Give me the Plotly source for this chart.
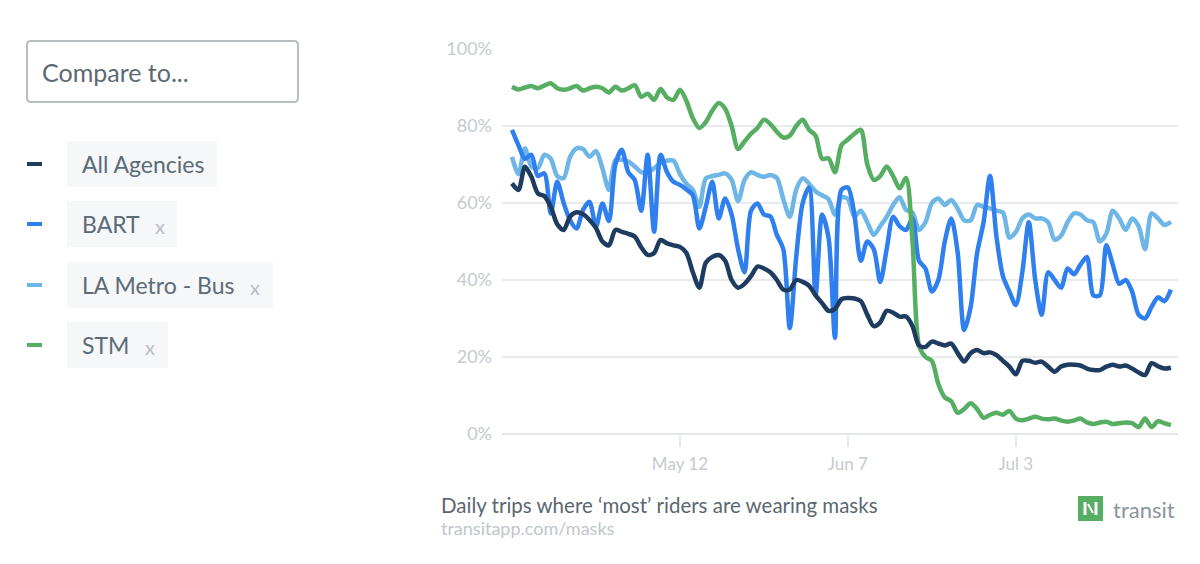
import pandas as pd
import plotly.graph_objects as go

# daily share of trips where "most" riders wear masks (%), Apr 16 -> Jul 27
dates = pd.date_range("2020-04-16", "2020-07-27", freq="D")

all_agencies = [
    65.1, 63.4, 69.4, 66.8, 62.5, 61.8, 59, 54.5, 53, 56.5, 57.6, 57.1, 55.6, 53.5, 50, 49, 53, 52.5, 52, 51.3,
    48.5, 46.5, 47, 50.4, 49.5, 49, 48.6, 47, 42, 38, 44.5, 46, 46.5, 45, 40, 38, 39, 41, 43.5, 43,
    42, 40, 37.5, 37.5, 40, 39.5, 38.5, 36, 34, 32, 32.5, 35, 35.3, 35.2, 34.5, 31, 28, 29, 32, 31.5,
    30.5, 30.5, 28, 23, 22.6, 24, 23.5, 23, 23.5, 21, 18.8, 21, 21.8, 21, 21.2, 20.5, 19, 17.5, 15.5, 19,
    19, 18.5, 18.8, 17.5, 16.2, 17.5, 18, 18, 17.8, 17, 16.6, 16.6, 17.5, 18, 17.5, 17.8, 17, 16, 15.3, 18.4,
    17.6, 17, 17.2,
]

bart = [
    79, 75, 71.5, 72.5, 67, 67.7, 57.3, 65.5, 60, 55.5, 53.4, 58.2, 60.3, 53.8, 59.9, 55.3, 70, 73.8, 68, 66,
    58, 72.5, 52.5, 72.5, 68, 65.5, 64.7, 63.5, 62, 53.4, 59, 65.5, 56, 61.2, 57, 48, 42, 58, 59.9, 57,
    56.5, 51.7, 48, 27.5, 46, 60, 64, 36, 57, 51, 25, 63.4, 64, 57, 45, 50, 48, 39.5, 48, 56.4,
    54, 53, 56, 45, 43, 37, 40, 50, 56, 47, 27, 33, 47, 55, 67, 51.2, 41, 37, 33.5, 42,
    55, 40, 31, 42, 40, 38, 43, 41.5, 44, 46, 36, 36, 49, 44, 39, 40, 37, 31, 30, 33,
    35.5, 34.5, 37.5,
]

la_metro_bus = [
    72, 67.5, 74.2, 69.5, 69, 72.5, 71.5, 67, 66.5, 72, 74.2, 74, 72, 73.5, 69, 63.4, 71.2, 71.2, 70.8, 69.5,
    68, 68, 69, 70.4, 71, 71, 67.5, 65, 63.4, 59, 66.4, 67, 67.3, 67.7, 66, 60.5, 66, 68, 67.3, 66.8,
    67.3, 66.5, 61, 56.4, 63.5, 66.4, 65, 63, 62, 61, 57, 61.5, 61, 56.5, 58, 55, 51.7, 54, 56.4, 59.5,
    61.5, 58.2, 57.5, 53, 55, 60, 61.2, 59.5, 60.8, 58.5, 55.5, 55.5, 59.5, 59, 58.6, 58, 57.5, 51, 52.5, 56,
    57, 56, 56, 55, 50.5, 51.5, 55, 57.3, 57, 55.5, 55, 50, 52, 58, 56, 53, 56, 54, 48, 57.3,
    56, 54.3, 55.1,
]

stm = [
    90.2, 89.5, 90.0, 90.4, 89.8, 90.5, 91.1, 89.8, 89.4, 89.8, 90.4, 89.2, 89.8, 90.2, 89.8, 88.7, 90.2, 89.2, 89.8, 90.6,
    87.6, 88.4, 86.8, 89.6, 87.4, 86.8, 89.4, 86.5, 82, 79.5, 81, 84, 86, 84.5, 80, 74, 76, 78, 79.5, 81.6,
    80.5, 78.5, 77, 77.5, 80, 81.6, 79, 77.5, 71.5, 71.6, 68, 75, 76.5, 78, 79, 70, 66, 67, 69.5, 67,
    63.8, 66.5, 50, 23, 20, 19, 13, 9.5, 8.5, 5.5, 6.5, 8, 6.5, 4.2, 5, 5.5, 5, 6, 4, 3.6,
    4, 4.5, 4, 3.8, 4, 3.5, 3.2, 3.5, 4, 3, 2.6, 3, 3.2, 2.6, 2.8, 3, 2.8, 1.8, 4, 1.8,
    3.3, 2.8, 2.3,
]

series_names = ["LA Metro - Bus", "BART", "STM", "All Agencies"]
series_values = [la_metro_bus, bart, stm, all_agencies]
series_colors = ["#6db6e5", "#2f80ee", "#55ae62", "#1e3c5f"]

x_ticks = ["2020-05-12", "2020-06-07", "2020-07-03"]
y_ticks = [0, 20, 40, 60, 80, 100]
y_tick_labels = ["0%", "20%", "40%", "60%", "80%", "100%"]

W, H = 1200, 564
OFF = 8  # page body margin, the figure sits 8px right/down


def px(x):
    return (x - OFF) / W


def py(y):
    return 1 - (y - OFF) / H


fig = go.Figure()

for name, vals, col in zip(series_names, series_values, series_colors):
    fig.add_trace(go.Scatter(x=dates, y=vals, name=name, mode="lines",
                             line=dict(color=col, width=4.5, shape="spline", smoothing=0.8)))

fig.update_layout(
    width=W, height=H,
    margin=dict(l=0, r=0, t=0, b=0, autoexpand=False),
    paper_bgcolor="white", plot_bgcolor="white",
    showlegend=False,
    font=dict(family="Lato", color="#c5cad0"),
    xaxis=dict(domain=[px(502), px(1178)],
               range=["2020-04-14 10:50", "2020-07-28 02:24"],
               tickvals=x_ticks, tickformat="%b %-d",
               ticks="outside", ticklen=11, tickwidth=2, tickcolor="#e6e8eb",
               showgrid=False, zeroline=False, showline=False,
               ticklabelstandoff=3,
               tickfont=dict(size=17, color="#c5cad0")),
    yaxis=dict(domain=[py(434.77), py(48.23)],
               range=[-0.2, 100.2],
               tickvals=y_ticks, ticktext=y_tick_labels,
               showgrid=True, gridcolor="#e8eaed", gridwidth=2,
               zeroline=True, zerolinecolor="#e3e6e9", zerolinewidth=2,
               showline=False, ticks="", ticklabelstandoff=9,
               tickfont=dict(size=18, color="#c5cad0")),
)

shapes = []
annotations = []

# "Compare to..." input box
x0, x1, y0, y1, r = 27, 298, 41, 102, 4
box_path = (f"M {px(x0 + r)} {py(y0)} L {px(x1 - r)} {py(y0)} Q {px(x1)} {py(y0)} {px(x1)} {py(y0 + r)} "
            f"L {px(x1)} {py(y1 - r)} Q {px(x1)} {py(y1)} {px(x1 - r)} {py(y1)} "
            f"L {px(x0 + r)} {py(y1)} Q {px(x0)} {py(y1)} {px(x0)} {py(y1 - r)} "
            f"L {px(x0)} {py(y0 + r)} Q {px(x0)} {py(y0)} {px(x0 + r)} {py(y0)} Z")
shapes.append(dict(type="path", xref="paper", yref="paper", path=box_path,
                   line=dict(color="#b8bdc2", width=2), fillcolor="white"))
annotations.append(dict(x=px(40), y=py(72), xref="paper", yref="paper", text="Compare to...",
                        showarrow=False, xanchor="left", yanchor="middle",
                        font=dict(family="Lato", size=25, color="#5c6973")))

# legend chips on the left
chip_labels = ["All Agencies", "BART", "LA Metro - Bus", "STM"]
chip_colors = ["#1e3c5f", "#2f80ee", "#6db6e5", "#55ae62"]
chip_rows = [164, 224, 285, 345]
chip_right = [217, 177, 273, 168]
chip_x_mark = [None, 160, 255, 150]

for lab, col, yc, xr, xm in zip(chip_labels, chip_colors, chip_rows, chip_right, chip_x_mark):
    shapes.append(dict(type="line", xref="paper", yref="paper",
                       x0=px(27), x1=px(42), y0=py(yc), y1=py(yc),
                       line=dict(color=col, width=4)))
    shapes.append(dict(type="rect", xref="paper", yref="paper",
                       x0=px(67), x1=px(xr), y0=py(yc - 23), y1=py(yc + 23),
                       fillcolor="#f6f7f8", line=dict(width=0), layer="below"))
    annotations.append(dict(x=px(80), y=py(yc), xref="paper", yref="paper", text=lab,
                            showarrow=False, xanchor="left", yanchor="middle",
                            font=dict(family="Lato", size=23, color="#5b6b78")))
    if xm:
        annotations.append(dict(x=px(xm), y=py(yc + 2), xref="paper", yref="paper", text="x",
                                showarrow=False, xanchor="center", yanchor="middle",
                                font=dict(family="Lato", size=20, color="#b9bec4")))

# caption under the chart
annotations.append(dict(x=px(439), y=py(505), xref="paper", yref="paper",
                        text="Daily trips where ‘most’ riders are wearing masks",
                        showarrow=False, xanchor="left", yanchor="middle",
                        font=dict(family="Lato", size=20.5, color="#5b6770")))
annotations.append(dict(x=px(439), y=py(528), xref="paper", yref="paper",
                        text="transitapp.com/masks",
                        showarrow=False, xanchor="left", yanchor="middle",
                        font=dict(family="Lato", size=18, color="#c0c6cc")))

# transit logo
shapes.append(dict(type="rect", xref="paper", yref="paper",
                   x0=px(1079), x1=px(1102), y0=py(497), y1=py(520),
                   fillcolor="#55ae62", line=dict(color="#55ae62", width=2)))
for lx in (1085, 1096):
    shapes.append(dict(type="line", xref="paper", yref="paper",
                       x0=px(lx), x1=px(lx), y0=py(502), y1=py(515),
                       line=dict(color="white", width=3)))
shapes.append(dict(type="line", xref="paper", yref="paper",
                   x0=px(1088), x1=px(1093), y0=py(504), y1=py(513),
                   line=dict(color="white", width=2)))
annotations.append(dict(x=px(1111), y=py(509), xref="paper", yref="paper", text="transit",
                        showarrow=False, xanchor="left", yanchor="middle",
                        font=dict(family="Lato", size=22, color="#8b959e")))

fig.update_layout(shapes=shapes, annotations=annotations)

fig.write_html("out.html")
